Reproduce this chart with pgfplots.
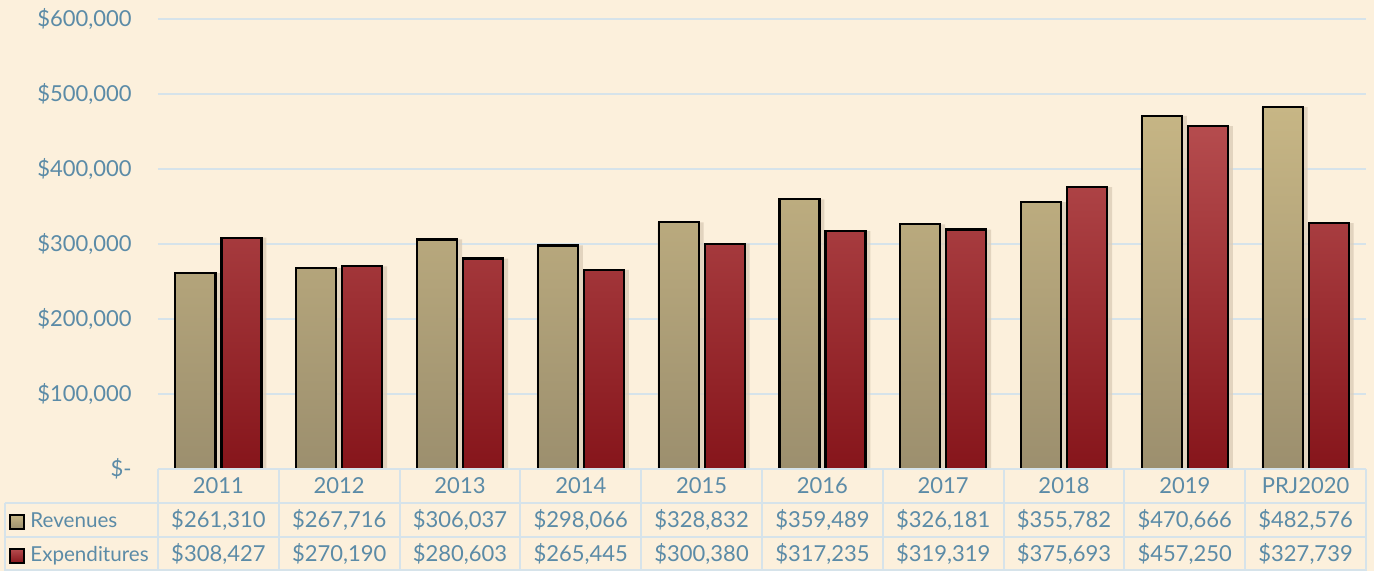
\documentclass[border=0pt]{standalone}
\usepackage{fontspec}
\setmainfont{Lato}
\usepackage{pgfplots}
\usepackage{pgfplotstable}
\pgfplotsset{compat=1.18}
\definecolor{bgcol}{HTML}{FCF0DC}
\definecolor{txtblue}{HTML}{5B8BA7}
\definecolor{gridblue}{HTML}{D6E3EA}
\definecolor{revtop}{HTML}{C7B685}
\definecolor{revbot}{HTML}{9C8F6E}
\definecolor{exptop}{HTML}{B54C4E}
\definecolor{expbot}{HTML}{86151B}
\definecolor{shade}{HTML}{DCCDB8}

\pgfplotstableread{
idx rev exp
0 261310 308427
1 267716 270190
2 306037 280603
3 298066 265445
4 328832 300380
5 359489 317235
6 326181 319319
7 355782 375693
8 470666 457250
9 482576 327739
}\money

\begin{document}
\begin{tikzpicture}[tabtxt/.style={font=\fontsize{11}{13}\selectfont, text=txtblue, text height=0.75em, text depth=0.2em, inner sep=0pt}]
% page background, 1px = 0.5pt
\fill[bgcol] (-79pt,-51pt) rectangle (608pt,234.5pt);
\begin{axis}[
  at={(0,0)}, anchor=south west,
  width=604pt, height=225pt, scale only axis,
  xmin=-0.5, xmax=9.5, ymin=0, ymax=600000,
  axis line style={draw=none},
  xtick=\empty,
  scaled y ticks=false,
  ytick={0,100000,200000,300000,400000,500000,600000},
  yticklabels={\$-\hspace{7pt},{\$100,000},{\$200,000},{\$300,000},{\$400,000},{\$500,000},{\$600,000}},
  yticklabel style={anchor=east, inner sep=0pt, xshift=-13pt, text=txtblue, font=\fontsize{11}{13}\selectfont},
  major tick length=0pt,
  ymajorgrids, grid style={gridblue, line width=1pt},
  ybar, bar width=20pt,
  clip=false,
]
% soft shadows behind the bars
\addplot[draw=none, fill=shade, opacity=0.8, bar width=23pt, bar shift=-10.5pt]
  table[x=idx, y=rev]{\money};
\addplot[draw=none, fill=shade, opacity=0.8, bar width=23pt, bar shift=12.5pt]
  table[x=idx, y=exp]{\money};
\addplot[draw=black, line width=1.1pt, top color=revtop, bottom color=revbot, bar shift=-11.5pt]
  table[x=idx, y=rev]{\money};
\addplot[draw=black, line width=1.1pt, top color=exptop, bottom color=expbot, bar shift=11.5pt]
  table[x=idx, y=exp]{\money};
\end{axis}
% data table grid
\draw[gridblue, line width=1pt] (0pt,0pt) -- (604pt,0pt);
\foreach \yy in {-17,-34,-50.5} \draw[gridblue, line width=1pt] (-76.5pt,\yy pt) -- (604pt,\yy pt);
\draw[gridblue, line width=1pt] (-76.5pt,-17pt) -- (-76.5pt,-51pt);
\foreach \k in {0,...,10} \draw[gridblue, line width=1pt] ({60.4*\k*1pt},0pt) -- ({60.4*\k*1pt},-51pt);
% legend keys
\draw[black, line width=1pt, top color=revtop, bottom color=revbot] (-74pt,-30pt) rectangle (-67pt,-23pt);
\draw[black, line width=1pt, top color=exptop, bottom color=expbot] (-74pt,-47pt) rectangle (-67pt,-40pt);
\node[tabtxt, anchor=west, font=\fontsize{10.3}{12}\selectfont] at (-64pt,-26.5pt) {Revenues};
\node[tabtxt, anchor=west, font=\fontsize{10.3}{12}\selectfont] at (-64pt,-43.5pt) {Expenditures};
% table values
\foreach \i/\yr/\r/\e in {0/2011/{261,310}/{308,427}, 1/2012/{267,716}/{270,190}, 2/2013/{306,037}/{280,603},
  3/2014/{298,066}/{265,445}, 4/2015/{328,832}/{300,380}, 5/2016/{359,489}/{317,235},
  6/2017/{326,181}/{319,319}, 7/2018/{355,782}/{375,693}, 8/2019/{470,666}/{457,250}, 9/PRJ2020/{482,576}/{327,739}}{
  \node[tabtxt] at ({(30.2+60.4*\i)*1pt},-9.3pt) {\yr};
  \node[tabtxt] at ({(30.2+60.4*\i)*1pt},-26.5pt) {\$\r};
  \node[tabtxt] at ({(30.2+60.4*\i)*1pt},-43.5pt) {\$\e};
}
\end{tikzpicture}
\end{document}
